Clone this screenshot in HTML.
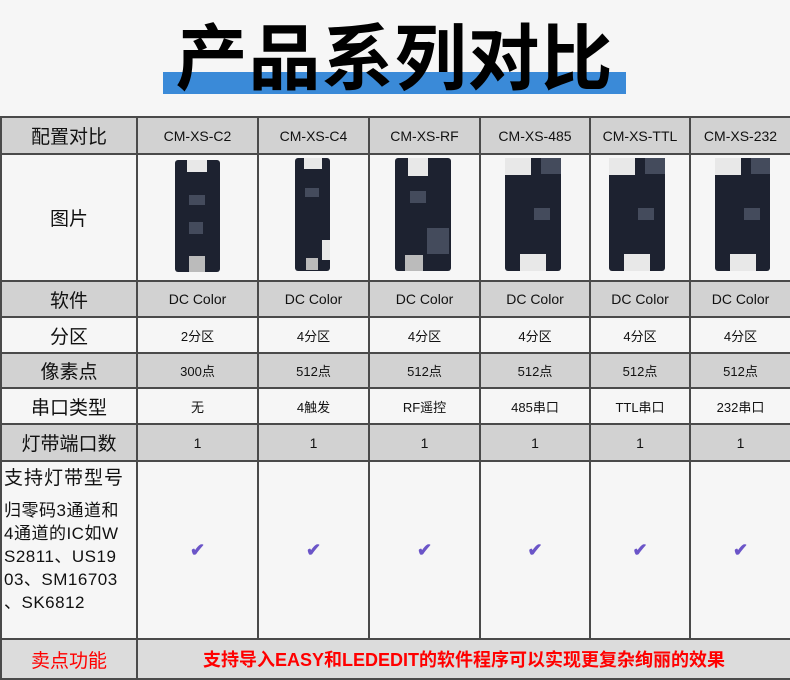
<!DOCTYPE html>
<html><head><meta charset="utf-8"><style>
*{margin:0;padding:0;box-sizing:border-box}
body{width:790px;height:679px;background:#f6f6f6;position:relative;overflow:hidden;font-family:"Liberation Sans","Noto Sans CJK SC",sans-serif;color:#111}
.a{position:absolute}
.bar{left:163px;top:72px;width:463px;height:22px;background:#3a8ad8}
.title{left:163px;top:8px;width:463px;text-align:center;font-size:72px;font-weight:bold;line-height:90px;letter-spacing:1px;color:#000;font-family:"Noto Sans CJK SC",sans-serif}
table{position:absolute;left:0;top:116px;border-collapse:collapse;width:790px;table-layout:fixed}
td{border:2px solid #4a4a4a;text-align:center;vertical-align:middle;font-size:14px;padding:0}
tr.g td{background:#d2d2d2}
tr.l td{background:#f6f6f6}
td.h{font-size:19px}
.chk{color:#6b55c8;font-size:18px;font-weight:bold}
.pcb{position:absolute;background:#1d2230;border-radius:3px}
.pcb i{position:absolute;background:#e8e8e8}
.pcb b{position:absolute;background:#444b5c}
</style></head><body>
<div class="a bar"></div>
<div class="a title">产品系列对比</div>
<table>
<colgroup><col style="width:136px"><col style="width:121px"><col style="width:111px"><col style="width:111px"><col style="width:110px"><col style="width:100px"><col style="width:101px"></colgroup>
<tr class="g" style="height:37px"><td class="h">配置对比</td><td>CM-XS-C2</td><td>CM-XS-C4</td><td>CM-XS-RF</td><td>CM-XS-485</td><td>CM-XS-TTL</td><td>CM-XS-232</td></tr>
<tr class="l" style="height:127px"><td class="h">图片</td><td></td><td></td><td></td><td></td><td></td><td></td></tr>
<tr class="g" style="height:36px"><td class="h">软件</td><td>DC Color</td><td>DC Color</td><td>DC Color</td><td>DC Color</td><td>DC Color</td><td>DC Color</td></tr>
<tr class="l" style="height:36px"><td class="h">分区</td><td style="font-size:13px">2分区</td><td style="font-size:13px">4分区</td><td style="font-size:13px">4分区</td><td style="font-size:13px">4分区</td><td style="font-size:13px">4分区</td><td style="font-size:13px">4分区</td></tr>
<tr class="g" style="height:35px"><td class="h">像素点</td><td style="font-size:13px">300点</td><td style="font-size:13px">512点</td><td style="font-size:13px">512点</td><td style="font-size:13px">512点</td><td style="font-size:13px">512点</td><td style="font-size:13px">512点</td></tr>
<tr class="l" style="height:36px"><td class="h">串口类型</td><td style="font-size:13px">无</td><td style="font-size:13px">4触发</td><td style="font-size:13px">RF遥控</td><td style="font-size:13px">485串口</td><td style="font-size:13px">TTL串口</td><td style="font-size:13px">232串口</td></tr>
<tr class="g" style="height:37px"><td class="h">灯带端口数</td><td>1</td><td>1</td><td>1</td><td>1</td><td>1</td><td>1</td></tr>
<tr class="l" style="height:178px"><td style="text-align:left;padding-left:2px;vertical-align:top;white-space:nowrap"><div style="font-size:19px;line-height:24px;margin-top:5px;letter-spacing:1px">支持灯带型号</div><div style="font-size:17px;line-height:23px;margin-top:8px;letter-spacing:0.5px">归零码3通道和<br>4通道的IC如W<br>S2811、US19<br>03、SM16703<br>、SK6812</div></td><td class="chk">✔</td><td class="chk">✔</td><td class="chk">✔</td><td class="chk">✔</td><td class="chk">✔</td><td class="chk">✔</td></tr>
<tr style="height:40px"><td style="background:#dcdcdc;color:#f00;font-size:19px">卖点功能</td><td colspan="6" style="background:#dcdcdc;color:#f00;font-size:18px;font-weight:bold">支持导入EASY和LEDEDIT的软件程序可以实现更复杂绚丽的效果</td></tr>
</table>
<div class="pcb" style="left:175px;top:160px;width:45px;height:112px"><i style="left:12px;top:0;width:20px;height:12px"></i><i style="left:14px;top:96px;width:16px;height:16px;background:#bbb"></i><b style="left:14px;top:35px;width:16px;height:10px"></b><b style="left:14px;top:62px;width:14px;height:12px"></b></div>
<div class="pcb" style="left:295px;top:158px;width:35px;height:113px"><i style="left:9px;top:0;width:18px;height:11px"></i><i style="left:27px;top:82px;width:8px;height:20px"></i><i style="left:11px;top:100px;width:12px;height:12px;background:#bbb"></i><b style="left:10px;top:30px;width:14px;height:9px"></b></div>
<div class="pcb" style="left:395px;top:158px;width:56px;height:113px"><i style="left:13px;top:0;width:20px;height:18px"></i><i style="left:10px;top:97px;width:18px;height:16px;background:#bbb"></i><b style="left:15px;top:33px;width:16px;height:12px"></b><b style="left:32px;top:70px;width:22px;height:26px"></b></div>
<div class="pcb" style="left:505px;top:158px;width:56px;height:113px"><i style="left:0;top:0;width:26px;height:17px"></i><i style="left:15px;top:96px;width:26px;height:17px"></i><b style="left:36px;top:0;width:20px;height:16px"></b><b style="left:29px;top:50px;width:16px;height:12px"></b></div>
<div class="pcb" style="left:609px;top:158px;width:56px;height:113px"><i style="left:0;top:0;width:26px;height:17px"></i><i style="left:15px;top:96px;width:26px;height:17px"></i><b style="left:36px;top:0;width:20px;height:16px"></b><b style="left:29px;top:50px;width:16px;height:12px"></b></div>
<div class="pcb" style="left:715px;top:158px;width:55px;height:113px"><i style="left:0;top:0;width:26px;height:17px"></i><i style="left:15px;top:96px;width:26px;height:17px"></i><b style="left:36px;top:0;width:19px;height:16px"></b><b style="left:29px;top:50px;width:16px;height:12px"></b></div>
</body></html>
